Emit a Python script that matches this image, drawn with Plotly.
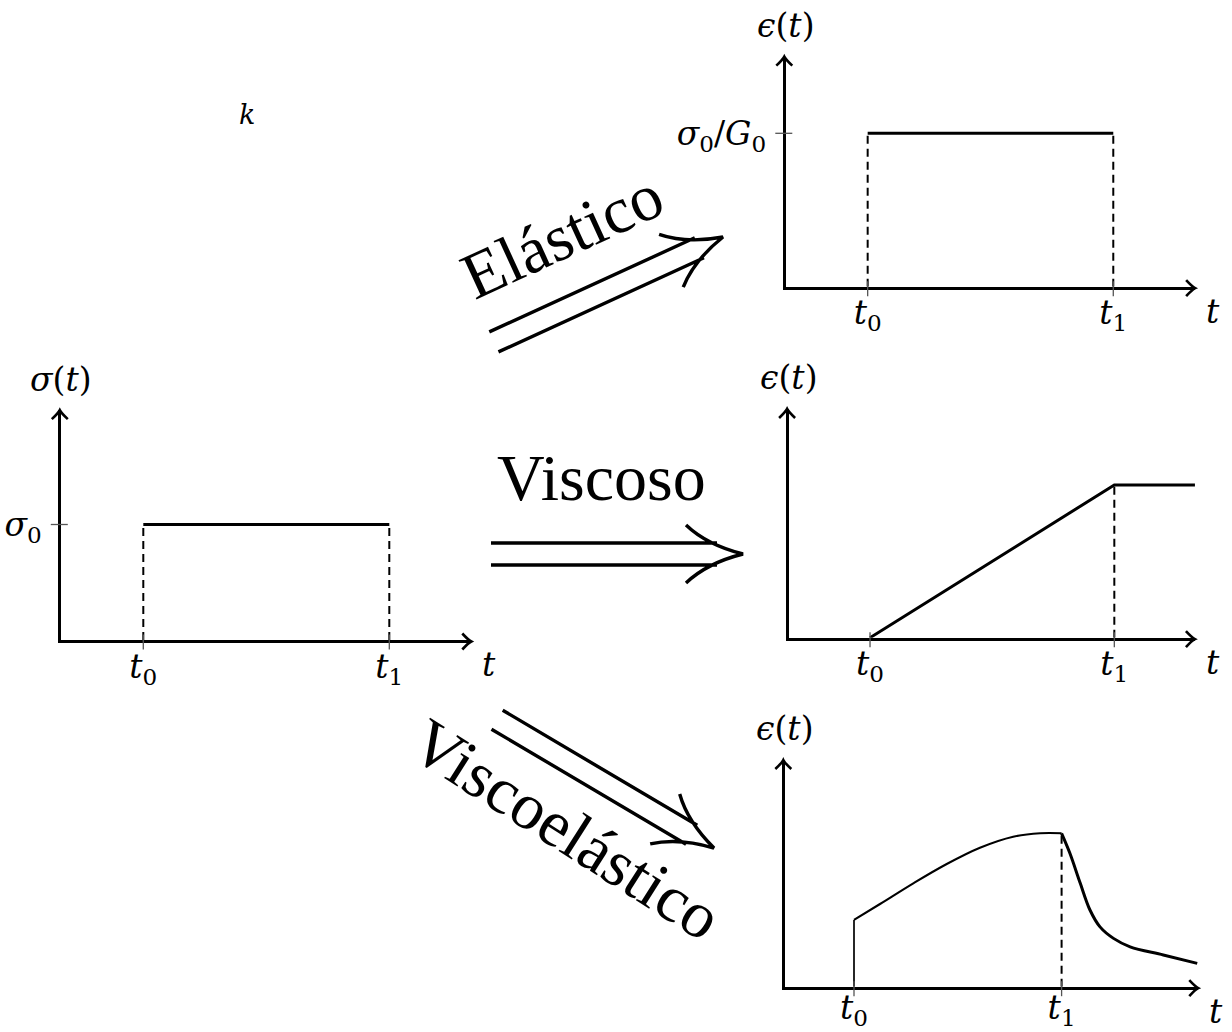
import math
import plotly.graph_objects as go

W, H = 1232, 1032
MATH = "DejaVu Serif, Liberation Serif, serif"
ROMAN = "Liberation Serif, Times New Roman, serif"

# ---- data -------------------------------------------------------------
# loading / unloading instants
t_ticks = [1, 4]
t_tick_text = ["<i>t</i><sub>0</sub>", "<i>t</i><sub>1</sub>"]

# applied stress step
stress_t = [1, 4]
stress_val = [1, 1]

# elastic strain response
elastic_t = [1, 4]
elastic_eps = [1, 1]

# viscous strain response
viscous_t = [1, 4, 5.0]
viscous_eps = [0, 1, 1]

# viscoelastic strain response
ve_jump_t = [1, 1]
ve_jump_eps = [0, 0.435]
ve_rise_t = [1.0, 1.376, 1.857, 2.34, 2.82, 3.30, 3.69, 4.0]
ve_rise_eps = [0.435, 0.539, 0.674, 0.80, 0.906, 0.978, 1.0, 1.0]
ve_decay_t = [4.0, 4.12, 4.27, 4.41, 4.555, 4.75, 4.99, 5.47, 5.96]
ve_decay_eps = [1.0, 0.87, 0.674, 0.5, 0.39, 0.315, 0.26, 0.207, 0.152]

# ---- panel frames (axis origin in px, px per unit, extent in units) ----
frames = [
    dict(ox=61.3, oy=640.0, sx=82.0, sy=115.5, tmax=5.0, vmax=1.99, xstand=-5,
         ylabel="<i>σ</i>(<i>t</i>)", yticks=[1], yticktext=["<i>σ</i><sub>0</sub>"]),
    dict(ox=785.8, oy=286.7, sx=81.87, sy=153.4, tmax=5.0, vmax=1.5, xstand=-5,
         ylabel="<i>ϵ</i>(<i>t</i>)", yticks=[1],
         yticktext=["<i>σ</i><sub>0</sub>/<i>G</i><sub>0</sub>"]),
    dict(ox=788.6, oy=637.7, sx=81.43, sy=152.7, tmax=4.99, vmax=1.498, xstand=-5,
         ylabel="<i>ϵ</i>(<i>t</i>)", yticks=[], yticktext=[]),
    dict(ox=784.8, oy=986.7, sx=69.2, sy=153.4, tmax=5.975, vmax=1.478, xstand=-10,
         ylabel="<i>ϵ</i>(<i>t</i>)", yticks=[], yticktext=[]),
]

AX_LW = 3.0
CURVE_LW = 3.0
DASH = "8px,5px"
LABEL_SIZE = 33
WORD_SIZE = 66


def sid(i):
    return "" if i == 1 else str(i)


def to_paper(px, py):
    return px / W, 1 - py / H


def pt(px, py):
    x, y = to_paper(px, py)
    return f"{x:.5f},{y:.5f}"


fig = go.Figure()
layout = dict(
    width=W, height=H, margin=dict(l=0, r=0, t=0, b=0, autoexpand=False),
    paper_bgcolor="white", plot_bgcolor="white", showlegend=False,
    font=dict(family=MATH, color="black", size=LABEL_SIZE),
)
shapes = []
annotations = []

for i, f in enumerate(frames, start=1):
    s = sid(i)
    ox, oy = f["ox"], f["oy"]
    xend = ox + f["tmax"] * f["sx"]
    yend = oy - f["vmax"] * f["sy"]
    layout["xaxis" + s] = dict(
        domain=[ox / W, xend / W], range=[0, f["tmax"]], anchor="y" + s,
        showline=True, linewidth=AX_LW, linecolor="black",
        showgrid=False, zeroline=False, ticks="", ticklen=0, automargin=False,
        tickmode="array", tickvals=t_ticks, ticktext=t_tick_text,
        tickfont=dict(family=MATH, size=LABEL_SIZE, color="black"),
        ticklabelstandoff=f["xstand"], fixedrange=True,
    )
    layout["yaxis" + s] = dict(
        domain=[1 - oy / H, 1 - yend / H], range=[0, f["vmax"]], anchor="x" + s,
        showline=True, linewidth=AX_LW, linecolor="black",
        showgrid=False, zeroline=False, ticks="", ticklen=0, automargin=False,
        tickmode="array", tickvals=f["yticks"], ticktext=f["yticktext"],
        tickfont=dict(family=MATH, size=LABEL_SIZE, color="black"),
        ticklabelstandoff=10, fixedrange=True,
    )

    # axis lines sit half a line width outside the plotting area
    lx = ox - AX_LW / 2
    ly = oy + AX_LW / 2

    # small tick marks crossing the axes
    for t in t_ticks:
        tx = ox + t * f["sx"]
        shapes.append(dict(type="path", xref="paper", yref="paper",
                           path=f"M {pt(tx, ly - 7)} L {pt(tx, ly + 8)}",
                           line=dict(color="#555555", width=1.3)))
    for v in f["yticks"]:
        vy = oy - v * f["sy"]
        shapes.append(dict(type="path", xref="paper", yref="paper",
                           path=f"M {pt(lx - 9, vy)} L {pt(lx + 8, vy)}",
                           line=dict(color="#555555", width=1.3)))

    # open arrow heads at the ends of both axes
    shapes.append(dict(type="path", xref="paper", yref="paper",
                       path=(f"M {pt(xend - 9, ly - 8)} Q {pt(xend - 3, ly - 1.5)} {pt(xend, ly)} "
                             f"Q {pt(xend - 3, ly + 1.5)} {pt(xend - 9, ly + 8)}"),
                       line=dict(color="black", width=2.6)))
    shapes.append(dict(type="path", xref="paper", yref="paper",
                       path=(f"M {pt(lx - 8, yend + 9)} Q {pt(lx - 1.5, yend + 3)} {pt(lx, yend)} "
                             f"Q {pt(lx + 1.5, yend + 3)} {pt(lx + 8, yend + 9)}"),
                       line=dict(color="black", width=2.6)))

    # axis names
    annotations.append(dict(xref="x" + s, yref="y" + s, x=0, y=f["vmax"],
                            text=f["ylabel"], showarrow=False, yshift=31,
                            xanchor="center", yanchor="middle",
                            font=dict(family=MATH, size=LABEL_SIZE)))
    annotations.append(dict(xref="x" + s, yref="y" + s, x=f["tmax"], y=0,
                            text="<i>t</i>", showarrow=False, xshift=18, yshift=-25,
                            xanchor="center", yanchor="middle",
                            font=dict(family=MATH, size=LABEL_SIZE)))


def curve(x, y, i, width=CURVE_LW, dash=None, shape="linear"):
    s = sid(i)
    fig.add_trace(go.Scatter(
        x=x, y=y, xaxis="x" + s, yaxis="y" + s, mode="lines",
        line=dict(color="black", width=width, dash=dash, shape=shape),
        hoverinfo="skip", cliponaxis=False,
    ))


def guide(t, level, i):
    curve([t, t], [0, level], i, width=2.0, dash=DASH)


# stress input
guide(stress_t[0], stress_val[0], 1)
guide(stress_t[1], stress_val[1], 1)
curve(stress_t, stress_val, 1)

# elastic
guide(elastic_t[0], elastic_eps[0], 2)
guide(elastic_t[1], elastic_eps[1], 2)
curve(elastic_t, elastic_eps, 2)

# viscous
guide(viscous_t[1], viscous_eps[1], 3)
curve(viscous_t, viscous_eps, 3)

# viscoelastic
guide(ve_decay_t[0], ve_decay_eps[0], 4)
curve(ve_jump_t, ve_jump_eps, 4, width=1.7)
curve(ve_rise_t, ve_rise_eps, 4, width=2.1, shape="spline")
curve(ve_decay_t, ve_decay_eps, 4, width=3.0, shape="spline")


# ---- double arrows between the panels ---------------------------------
def double_arrow(tip, angle_deg, length=252, gap=22):
    a = math.radians(angle_deg)
    d = (math.cos(a), math.sin(a))
    n = (-math.sin(a), math.cos(a))

    def P(u, v):
        return pt(tip[0] + u * d[0] + v * n[0], tip[1] + u * d[1] + v * n[1])

    g = gap / 2
    path = (
        f"M {P(-length, -g)} L {P(-26, -g)} "
        f"M {P(-length, g)} L {P(-26, g)} "
        f"M {P(-57, -29)} Q {P(-36, -9)} {P(0, 0)} Q {P(-36, 9)} {P(-57, 29)}"
    )
    return dict(type="path", xref="paper", yref="paper", path=path,
                line=dict(color="black", width=3.4))


shapes.append(double_arrow((723, 237), -24.6))
shapes.append(double_arrow((743, 554), 0))
shapes.append(double_arrow((714, 848), 30.6))

words = [
    ("Elástico", 562, 236, -24.6),
    ("Viscoso", 601, 478, 0),
    ("Viscoelástico", 567, 829, 32.5),
]
for text, px, py, ang in words:
    x, y = to_paper(px, py)
    annotations.append(dict(xref="paper", yref="paper", x=x, y=y, text=text,
                            showarrow=False, textangle=ang,
                            xanchor="center", yanchor="middle",
                            font=dict(family=ROMAN, size=WORD_SIZE, color="black")))

kx, ky = to_paper(247, 115)
annotations.append(dict(xref="paper", yref="paper", x=kx, y=ky, text="<i>k</i>",
                        showarrow=False, xanchor="center", yanchor="middle",
                        font=dict(family=MATH, size=27)))

layout["shapes"] = shapes
layout["annotations"] = annotations
fig.update_layout(**layout)
fig.write_html("out.html")
